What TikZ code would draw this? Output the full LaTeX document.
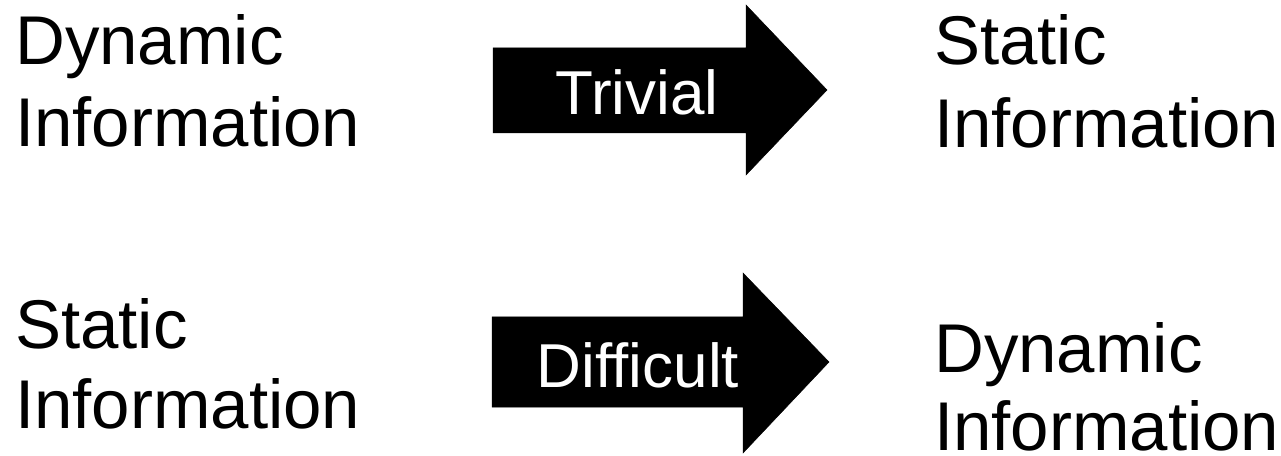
\documentclass[tikz,border=0pt]{standalone}
\usepackage{fontspec}
\setmainfont{Liberation Sans}
\begin{document}
\begin{tikzpicture}[x=1pt,y=1pt,
  lbl/.style={anchor=base west,inner sep=0pt,align=left,font=\fontsize{69}{#1}\selectfont},
  arrowtxt/.style={anchor=base,inner sep=0pt,text=white,font=\fontsize{62}{70}\selectfont},
  bigarrow/.style={fill=black,draw=black,line width=0.5pt}]
\useasboundingbox (0,0) rectangle (1281,455);
% labels (anchored at the baseline of their last line)
\node[lbl=82] (dynL) at (15,308) {Dynamic\\Information};
\node[lbl=80] (staL) at (15,27) {Static\\Information};
\node[lbl=83] (staR) at (934,307) {Static\\Information};
\node[lbl=78] (dynR) at (934,5) {Dynamic\\Information};
% arrows
\path[bigarrow] (493,407) -- (746,407) -- (746,450) -- (827,365) -- (746,280) -- (746,322) -- (493,322) -- cycle;
\path[bigarrow] (492,138) -- (743,138) -- (743,182) -- (829,93) -- (743,2) -- (743,48) -- (492,48) -- cycle;
\node[arrowtxt] (triv) at (637,340) {Trivial};
\node[arrowtxt] (diff) at (638,68) {Difficult};
\end{tikzpicture}
\end{document}
